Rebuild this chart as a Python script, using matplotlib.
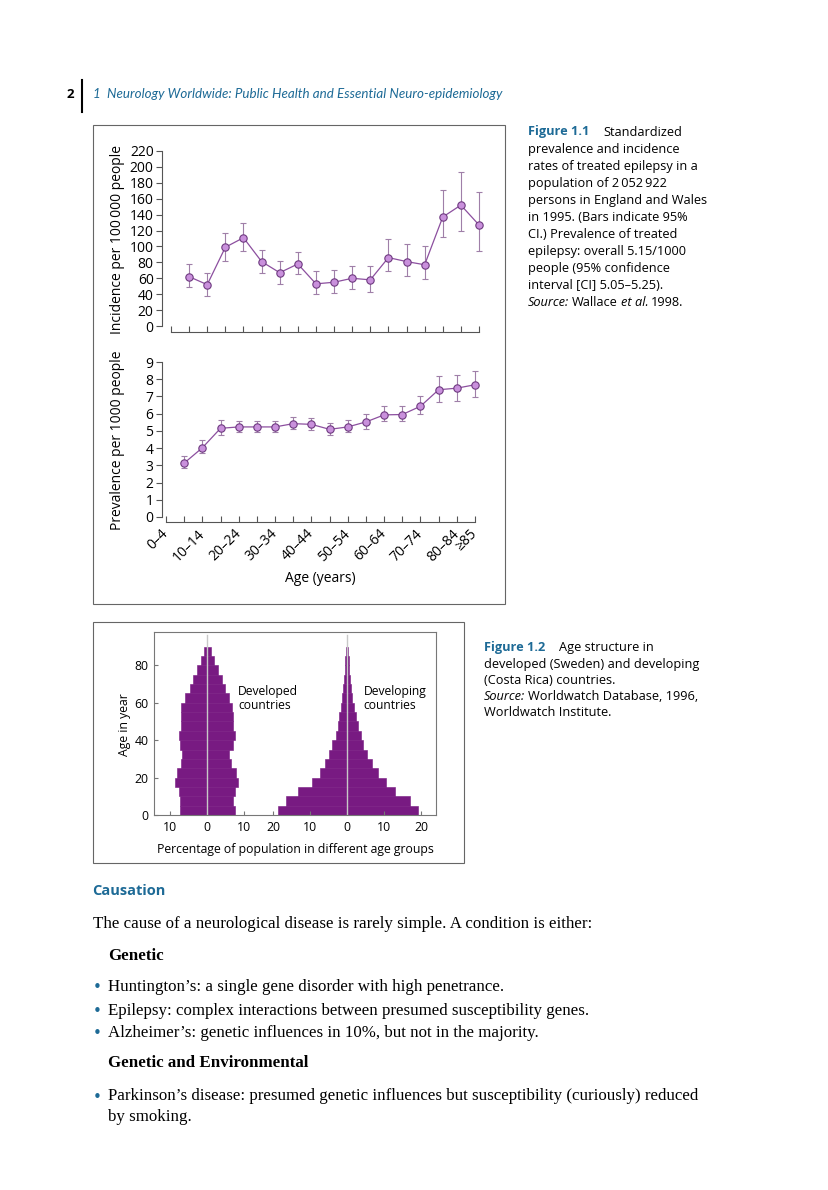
import numpy as np
import matplotlib.pyplot as plt
from matplotlib.patches import Rectangle

plt.rcParams['font.family'] = ['Open Sans', 'DejaVu Sans']

# ---- data -------------------------------------------------------------
age_groups = ['0–4', '5–9', '10–14', '15–19', '20–24', '25–29', '30–34', '35–39',
              '40–44', '45–49', '50–54', '55–59', '60–64', '65–69', '70–74',
              '75–79', '80–84', '≥85']
shown_labels = ['0–4', '10–14', '20–24', '30–34', '40–44', '50–54', '60–64',
                '70–74', '80–84', '≥85']
data_groups = age_groups[1:]

incidence = [62, 52, 99, 111, 81, 67, 78, 53, 55, 60, 58, 86, 81, 77, 137, 152, 127]
inc_lo = [49, 38, 82, 94, 67, 53, 65, 40, 41, 47, 43, 69, 63, 59, 112, 119, 94]
inc_hi = [78, 67, 117, 129, 96, 82, 93, 69, 70, 76, 75, 109, 103, 100, 171, 194, 169]

prevalence = [3.13, 4.02, 5.15, 5.23, 5.23, 5.23, 5.42, 5.38, 5.09, 5.23, 5.52,
              5.93, 5.95, 6.43, 7.39, 7.48, 7.68]
prev_lo = [2.82, 3.71, 4.76, 4.94, 4.94, 4.94, 5.09, 5.07, 4.78, 4.92, 5.09,
           5.58, 5.56, 5.99, 6.67, 6.75, 6.96]
prev_hi = [3.52, 4.45, 5.62, 5.60, 5.60, 5.60, 5.79, 5.75, 5.46, 5.64, 5.99,
           6.42, 6.42, 7.00, 8.16, 8.24, 8.46]

pyr_age_start = [0, 5, 10, 15, 20, 25, 30, 35, 40, 45, 50, 55, 60, 65, 70, 75, 80, 85]
sweden_left = [7.2, 7.2, 7.4, 8.45, 7.9, 6.8, 6.6, 7.2, 7.4, 6.9, 6.9, 6.8, 5.7, 4.6, 3.7, 2.6, 1.6, 0.7]
sweden_right = [7.7, 7.1, 7.8, 8.6, 8.0, 6.6, 6.1, 7.1, 7.6, 7.2, 7.1, 6.9, 6.0, 5.1, 4.2, 3.1, 2.0, 1.1]
costa_left = [18.7, 16.5, 13.2, 9.6, 7.4, 6.0, 5.0, 4.0, 3.1, 2.6, 2.1, 1.7, 1.3, 1.05, 0.8, 0.6, 0.5, 0.45]
costa_right = [19.2, 17.0, 13.0, 10.5, 8.2, 6.8, 5.4, 4.4, 3.6, 2.9, 2.3, 1.8, 1.4, 1.05, 0.8, 0.6, 0.45, 0.35]

# ---- page -------------------------------------------------------------
W, H = 829, 1190
fig = plt.figure(figsize=(W / 100, H / 100), dpi=100)


def rect(l, t, r, b):
    return [l / W, 1 - b / H, (r - l) / W, (b - t) / H]


page = fig.add_axes([0, 0, 1, 1])
page.set_xlim(0, W)
page.set_ylim(H, 0)
page.axis('off')

teal = '#1d6a96'
line_c = '#8c4f9f'
face_c = '#c990dc'
edge_c = '#6e3a80'
err_c = '#9f7fa8'
bar_c = '#781a82'
spine_c = '#555555'
tick_fs = 10

# header
page.text(70, 94, '2', fontsize=9.5, fontweight='bold', ha='center', va='center')
page.plot([82, 82], [80, 112], color='k', lw=1.5)
page.text(93, 94, '1  Neurology Worldwide: Public Health and Essential Neuro-epidemiology',
          fontsize=9.6, style='italic', color=teal, family=['Lato', 'DejaVu Sans'], va='center')

# figure frames
page.add_patch(Rectangle((93, 125), 412, 479, fill=False, ec='#666666', lw=0.8))
page.add_patch(Rectangle((93, 622), 371, 241, fill=False, ec='#666666', lw=0.8))


def style_ax(ax):
    for s in ['top', 'right']:
        ax.spines[s].set_visible(False)
    for s in ['left', 'bottom']:
        ax.spines[s].set_color(spine_c)
        ax.spines[s].set_linewidth(0.8)
    ax.tick_params(axis='y', direction='out', length=4, width=0.8, color=spine_c,
                   labelsize=tick_fs, pad=2)
    ax.tick_params(axis='x', direction='in', length=4, width=0.8, color=spine_c)


def draw_series(ax, y, lo, hi):
    x = [age_groups.index(g) for g in data_groups]
    y = np.array(y)
    err = [y - np.array(lo), np.array(hi) - y]
    cont = ax.errorbar(x, y, yerr=err, fmt='-o', color=line_c, lw=0.9,
                       ms=5.3, mfc=face_c, mec=edge_c, mew=0.8,
                       ecolor=err_c, elinewidth=0.8, capsize=2.5, capthick=0.8)
    for art in cont.get_children():
        art.set_clip_on(False)


# incidence panel
ax1 = fig.add_axes(rect(171, 151, 479, 326))
style_ax(ax1)
ax1.spines['left'].set_position(('outward', 6.5))
ax1.spines['bottom'].set_position(('outward', 4.3))
draw_series(ax1, incidence, inc_lo, inc_hi)
ax1.set_xlim(0, len(age_groups) - 1)
ax1.set_ylim(0, 220)
ax1.set_yticks(np.arange(0, 221, 20))
ax1.set_xticks(range(len(age_groups)))
ax1.set_xticklabels([])

# prevalence panel
ax2 = fig.add_axes(rect(166, 362, 475, 517))
style_ax(ax2)
ax2.spines['left'].set_position(('outward', 3))
ax2.spines['bottom'].set_position(('outward', 3.6))
draw_series(ax2, prevalence, prev_lo, prev_hi)
ax2.set_xlim(0, len(age_groups) - 1)
ax2.set_ylim(0, 9)
ax2.set_yticks(range(0, 10))
ax2.set_xticks(range(len(age_groups)))
ax2.set_xticklabels([g if g in shown_labels else '' for g in age_groups],
                    rotation=45, ha='right', va='center', rotation_mode='anchor', fontsize=tick_fs)
ax2.tick_params(axis='x', pad=7)

page.text(118, 239, 'Incidence per 100\u2009000 people', rotation=90, fontsize=10,
          ha='center', va='center')
page.text(118, 440, 'Prevalence per 1000 people', rotation=90, fontsize=10,
          ha='center', va='center')
page.text(320, 578, 'Age (years)', fontsize=10, ha='center', va='center')


# captions
def rich(x, y, parts, size):
    prev = page.text(x, y, parts[0][0], fontsize=size, va='center', ha='left', **parts[0][1])
    for text, kw, gap in parts[1:]:
        prev = page.annotate(text, xy=(1, 0.5), xycoords=prev, xytext=(gap, 0),
                             textcoords='offset points', va='center', ha='left',
                             fontsize=size, **kw)


cap_size = 9.2
bold_t = dict(fontweight='bold', color=teal)
ital = dict(style='italic')
plain = dict()
cap1 = [
    [('Figure 1.1', bold_t), ('Standardized', plain, 10)],
    [('prevalence and incidence', plain)],
    [('rates of treated epilepsy in a', plain)],
    [('population of 2\u2009052\u2009922', plain)],
    [('persons in England and Wales', plain)],
    [('in 1995. (Bars indicate 95%', plain)],
    [('CI.) Prevalence of treated', plain)],
    [('epilepsy: overall 5.15/1000', plain)],
    [('people (95% confidence', plain)],
    [('interval [CI] 5.05–5.25).', plain)],
    [('Source:', ital), ('Wallace', plain, 2), ('et al.', ital, 2), ('1998.', plain, 2)],
]
for i, parts in enumerate(cap1):
    rich(528, 132 + i * 17.1, parts, cap_size)

cap2 = [
    [('Figure 1.2', bold_t), ('Age structure in', plain, 10)],
    [('developed (Sweden) and developing', plain)],
    [('(Costa Rica) countries.', plain)],
    [('Source:', ital), ('Worldwatch Database, 1996,', plain, 2)],
    [('Worldwatch Institute.', plain)],
]
for i, parts in enumerate(cap2):
    rich(484, 648 + i * 16.2, parts, cap_size)

# population pyramids
offset = 38
ax3 = fig.add_axes(rect(154, 632, 436, 815))
for s in ax3.spines.values():
    s.set_color('#777777')
    s.set_linewidth(0.8)
ages = np.array(pyr_age_start)
for center, lft, rgt in [(0, sweden_left, sweden_right), (offset, costa_left, costa_right)]:
    lft = np.array(lft)
    rgt = np.array(rgt)
    ax3.barh(ages, lft + rgt, left=center - lft, height=5, align='edge',
             color=bar_c, edgecolor=bar_c, lw=0.4)
    ax3.plot([center, center], [0, 96], color='#c8c8c8', lw=1.0)
ax3.set_xlim(-14.2, 62)
ax3.set_ylim(0, 97.8)
ax3.set_yticks([0, 20, 40, 60, 80])
xt = [-10, 0, 10, offset - 20, offset - 10, offset, offset + 10, offset + 20]
ax3.set_xticks(xt)
ax3.set_xticklabels(['10', '0', '10', '20', '10', '0', '10', '20'])
ax3.tick_params(direction='in', length=3, width=0.8, color='#777777', labelsize=8.8, pad=4)
ax3.text(8.5, 62, 'Developed\ncountries', fontsize=8.7, va='center', ha='left', linespacing=1.1)
ax3.text(offset + 4.4, 62, 'Developing\ncountries', fontsize=8.7, va='center', ha='left', linespacing=1.1)
page.text(125, 725, 'Age in year', rotation=90, fontsize=8.8, ha='center', va='center')
page.text(295, 849, 'Percentage of population in different age groups', fontsize=8.8,
          ha='center', va='center')

# body text
serif = ['Liberation Serif', 'DejaVu Serif']
body_fs = 12.2
page.text(92, 891, 'Causation', fontsize=10.5, fontweight='bold', color=teal, va='center')
page.text(93, 924, 'The cause of a neurological disease is rarely simple. A condition is either:',
          fontsize=body_fs, family=serif, va='center')
page.text(108, 956, 'Genetic', fontsize=body_fs, family=serif, fontweight='bold', va='center')
bullets = [
    (987, 'Huntington’s: a single gene disorder with high penetrance.'),
    (1011, 'Epilepsy: complex interactions between presumed susceptibility genes.'),
    (1033, 'Alzheimer’s: genetic influences in 10%, but not in the majority.'),
    (1096, 'Parkinson’s disease: presumed genetic influences but susceptibility (curiously) reduced'),
]
for yb, txt in bullets:
    page.text(97, yb + 1, '•', fontsize=11, color=teal, va='center', ha='center',
              family=['DejaVu Sans'])
    page.text(108, yb, txt, fontsize=body_fs, family=serif, va='center')
page.text(108, 1063, 'Genetic and Environmental', fontsize=body_fs, family=serif,
          fontweight='bold', va='center')
page.text(108, 1117, 'by smoking.', fontsize=body_fs, family=serif, va='center')

fig.savefig('out.png', dpi=100)
